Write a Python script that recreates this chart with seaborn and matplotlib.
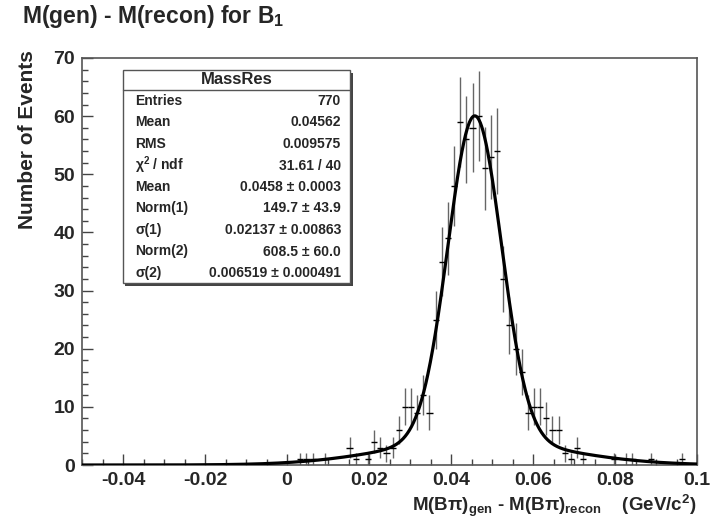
import numpy as np
import pandas as pd
import matplotlib
matplotlib.use("Agg")
import matplotlib.pyplot as plt
from matplotlib.patches import Rectangle
from matplotlib.ticker import MultipleLocator
import seaborn as sns

# ---------------- data ----------------
x_min, x_max, n_bins = -0.05, 0.10, 100
bin_index = [35, 36, 37, 39, 43, 44, 46, 47, 48, 49, 50,
             51, 52, 53, 54, 55, 56, 57,
             58, 59, 60, 61, 62, 63, 64, 65, 66, 67,
             68, 69, 70, 71, 72, 73, 74, 75, 76, 77,
             78, 79, 80, 81, 86, 88, 89, 92, 97]
bin_counts = [1, 1, 1, 1, 3, 1, 1, 4, 3, 2, 3,
              6, 10, 10, 9, 12, 9, 25,
              35, 39, 48, 59, 56, 58, 60, 51, 53, 54,
              32, 24, 20, 16, 9, 10, 10, 8, 6, 6,
              2, 1, 3, 1, 1, 1, 1, 1, 1]

# fit parameters (double gaussian) from the stats box
fit_mean = 0.0458
fit_norm1, fit_sigma1 = 149.7, 0.02137
fit_norm2, fit_sigma2 = 608.5, 0.006519

stat_labels = ["Entries", "Mean", "RMS", "χ$^{2}$ / ndf", "Mean",
               "Norm(1)", "σ(1)", "Norm(2)", "σ(2)"]
stat_values = ["770", "0.04562", "0.009575", "31.61 / 40",
               "0.0458 ± 0.0003", "149.7 ± 43.9", "0.02137 ± 0.00863",
               "608.5 ± 60.0", "0.006519 ± 0.000491"]

x_ticks = [-0.04, -0.02, 0, 0.02, 0.04, 0.06, 0.08, 0.1]
x_tick_labels = ["-0.04", "-0.02", "0", "0.02", "0.04", "0.06", "0.08", "0.1"]
y_ticks = [0, 10, 20, 30, 40, 50, 60, 70]

# ---------------- style ----------------
sns.set_theme(style="white")
plt.rcParams["font.family"] = ["Liberation Sans", "DejaVu Sans"]
plt.rcParams["font.weight"] = "bold"
plt.rcParams["mathtext.fontset"] = "custom"
plt.rcParams["mathtext.rm"] = "Liberation Sans:bold"
plt.rcParams["mathtext.bf"] = "Liberation Sans:bold"
plt.rcParams["mathtext.it"] = "Liberation Sans:bold"

W, H = 714, 522
fig = plt.figure(figsize=(W / 100, H / 100), dpi=100)
ax = fig.add_axes([82 / W, 1 - 465 / H, (697 - 82) / W, (465 - 58) / H])

bw = (x_max - x_min) / n_bins
idx = np.array(bin_index)
cnt = np.array(bin_counts, dtype=float)
centers = x_min + bw * (idx + 0.5)
df = pd.DataFrame({"x": centers, "n": cnt, "err": np.sqrt(cnt)})

# data points with error bars
ax.errorbar(df["x"], df["n"], yerr=df["err"], fmt="none", ecolor="#666666",
            elinewidth=1.0, capsize=0, zorder=2)
ax.errorbar(df["x"], df["n"], xerr=bw / 2, fmt="none", ecolor="black",
            elinewidth=1.0, capsize=0, zorder=2)

# fit curve
xs = np.linspace(x_min, x_max, 1500)
g1 = fit_norm1 / (fit_sigma1 * np.sqrt(2 * np.pi)) * np.exp(-0.5 * ((xs - fit_mean) / fit_sigma1) ** 2)
g2 = fit_norm2 / (fit_sigma2 * np.sqrt(2 * np.pi)) * np.exp(-0.5 * ((xs - fit_mean) / fit_sigma2) ** 2)
curve = pd.DataFrame({"x": xs, "y": bw * (g1 + g2)})
sns.lineplot(data=curve, x="x", y="y", color="black", lw=2.3, ax=ax, zorder=3)

ax.set_xlim(x_min, x_max)
ax.set_ylim(0, 70)
ax.set_xticks(x_ticks)
ax.set_xticklabels(x_tick_labels)
ax.set_yticks(y_ticks)
ax.xaxis.set_minor_locator(MultipleLocator(0.005))
ax.yaxis.set_minor_locator(MultipleLocator(2))
ax.set_xlabel("")
ax.set_ylabel("")
ax.tick_params(axis="both", which="major", direction="in", length=8, width=1,
               color="#444444", labelsize=14, pad=5)
ax.tick_params(axis="both", which="minor", direction="in", length=4, width=1,
               color="#444444", bottom=True, left=True)
ax.tick_params(axis="x", which="both", bottom=True, top=False)
ax.tick_params(axis="y", which="both", left=True, right=False)
for lab in ax.get_xticklabels() + ax.get_yticklabels():
    lab.set_fontweight("bold")
for sp in ax.spines.values():
    sp.set_color("#555555")
    sp.set_linewidth(1.2)

# titles
fig.text(22 / W, 1 - 17 / H, "M(gen) - M(recon) for B$_{1}$", fontsize=16.5,
         fontweight="bold", ha="left", va="center")
fig.text(28 / W, 1 - 50 / H, "Number of Events", rotation=90, fontsize=15,
         fontweight="bold", ha="center", va="top")
fig.text(697 / W, 1 - 511 / H,
         "M(Bπ)$_{\\rm gen}$ - M(Bπ)$_{\\rm recon}$    (GeV/c$^{2}$)",
         fontsize=13.5, fontweight="bold", ha="right", va="baseline")

# stats box
bx0, bx1, by0, by1 = 123, 350, 70, 283
fig.patches.append(Rectangle((bx0 / W + 2.5 / W, 1 - (by1 + 2.5) / H),
                             (bx1 - bx0) / W, (by1 - by0) / H,
                             transform=fig.transFigure, facecolor="#444444",
                             edgecolor="none", zorder=4))
fig.patches.append(Rectangle((bx0 / W, 1 - by1 / H), (bx1 - bx0) / W,
                             (by1 - by0) / H, transform=fig.transFigure,
                             facecolor="white", edgecolor="#555555", lw=1.0,
                             zorder=5))
fig.lines.append(plt.Line2D([bx0 / W, bx1 / W], [1 - 90 / H, 1 - 90 / H],
                            transform=fig.transFigure, color="#555555",
                            lw=1.0, zorder=6))
fig.text((bx0 + bx1) / 2 / W, 1 - 80 / H, "MassRes", fontsize=12,
         fontweight="bold", ha="center", va="center", zorder=7)
for i, (lab, val) in enumerate(zip(stat_labels, stat_values)):
    yy = 1 - (101 + 21.5 * i) / H
    fig.text(135 / W, yy, lab, fontsize=10, fontweight="bold",
             ha="left", va="center", zorder=7)
    fig.text(341 / W, yy, val, fontsize=10, fontweight="bold",
             ha="right", va="center", zorder=7)

fig.savefig("out.png", dpi=100, facecolor="white")
